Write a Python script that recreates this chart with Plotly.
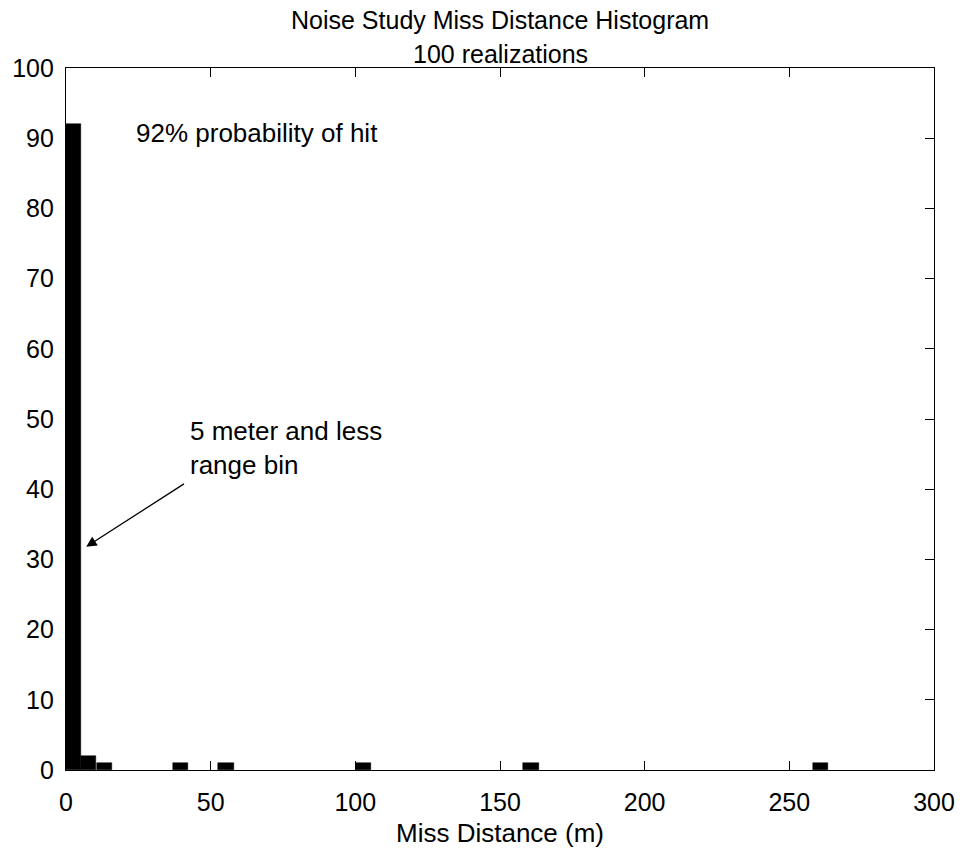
import plotly.graph_objects as go

# Histogram of miss distance over 100 realizations (50 equal bins, 0 to ~263.5 m)
bin_centers = [2.6, 7.9, 13.2, 39.5, 55.3, 102.8, 160.7, 260.9]
counts = [92, 2, 1, 1, 1, 1, 1, 1]
bin_width = 5.27

x_ticks = [0, 50, 100, 150, 200, 250, 300]
y_ticks = [0, 10, 20, 30, 40, 50, 60, 70, 80, 90, 100]

FONT = "Liberation Sans, Arial, Helvetica, sans-serif"

fig = go.Figure()
fig.add_trace(go.Bar(
    x=bin_centers,
    y=counts,
    width=bin_width,
    marker=dict(color="black", line=dict(color="black", width=0.5)),
    showlegend=False,
))

axis_common = dict(
    showline=True, linecolor="black", linewidth=1.3, mirror="ticks",
    ticks="inside", ticklen=9, tickwidth=1, tickcolor="black",
    showgrid=False, zeroline=False,
    tickfont=dict(family=FONT, size=25, color="black"),
)

fig.update_xaxes(range=[0, 300], tickvals=x_ticks, ticklabelstandoff=10, **axis_common)
fig.update_yaxes(range=[0, 100], tickvals=y_ticks, ticklabelstandoff=6, **axis_common)

txt = dict(family=FONT, size=25, color="black")
fig.add_annotation(text="Noise Study Miss Distance Histogram", xref="paper", yref="paper",
                   x=0.5, y=1.068, xanchor="center", yanchor="middle", showarrow=False, font=txt)
fig.add_annotation(text="100 realizations", xref="paper", yref="paper",
                   x=0.5, y=1.02, xanchor="center", yanchor="middle", showarrow=False, font=txt)
fig.add_annotation(text="Miss Distance (m)", xref="paper", yref="paper",
                   x=0.5, y=-0.09, xanchor="center", yanchor="middle", showarrow=False,
                   font=dict(family=FONT, size=26, color="black"))

fig.add_annotation(text="92% probability of hit", xref="x", yref="y",
                   x=23.6, y=90.8, xanchor="left", yanchor="middle", showarrow=False,
                   font=dict(family=FONT, size=26, color="black"))
fig.add_annotation(text="5 meter and less<br>range bin", xref="x", yref="y",
                   x=42.3, y=50.7, xanchor="left", yanchor="top", showarrow=False, align="left",
                   font=dict(family=FONT, size=26, color="black"))
fig.add_annotation(x=7.0, y=31.8, ax=41.3, ay=40.9, xref="x", yref="y", axref="x", ayref="y",
                   text="", showarrow=True, arrowhead=2, arrowsize=1.6, arrowwidth=1.3,
                   arrowcolor="black")

fig.update_layout(
    width=967, height=849,
    margin=dict(l=55, r=24, t=68, b=79),
    plot_bgcolor="white", paper_bgcolor="white",
    bargap=0,
)

fig.write_html("out.html")
